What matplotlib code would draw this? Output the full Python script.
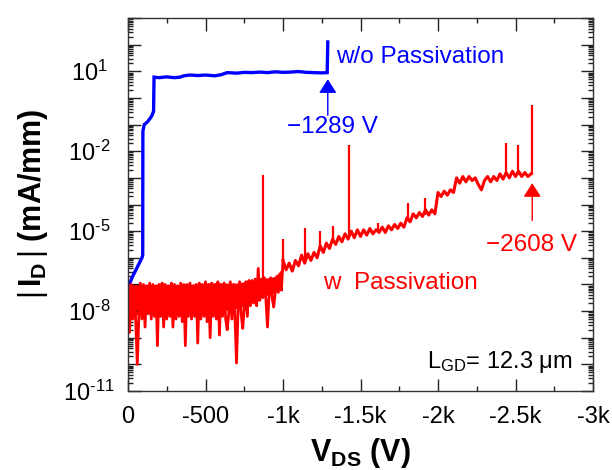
import numpy as np
import matplotlib
matplotlib.use("Agg")
import matplotlib.pyplot as plt
from matplotlib.ticker import FixedLocator, FixedFormatter, LogLocator, NullFormatter

plt.rcParams['font.family'] = ['Liberation Sans', 'DejaVu Sans']
plt.rcParams['mathtext.fontset'] = 'custom'
plt.rcParams['mathtext.rm'] = 'Liberation Sans'
plt.rcParams['mathtext.it'] = 'Liberation Sans:italic'
plt.rcParams['mathtext.bf'] = 'Liberation Sans:bold'
plt.rcParams['path.simplify'] = False  # que no se coma el ruido

# --- datos (log10 de I_D en mA/mm) ---
# sin pasivacion (azul)
blue_v = [0, -30, -60, -90, -95, -96, -105, -125, -145, -155, -165, -168,
          -200, -250, -300, -335, -360, -400, -450, -500, -560, -600, -640,
          -700, -750, -800, -850, -900, -950, -1000, -1050, -1100, -1150,
          -1200, -1250, -1285, -1289]
blue_log = [-7.1, -6.7, -6.35, -6.0, -5.9, -1.25, -1.0, -0.9, -0.75, -0.65,
            -0.5, 0.78, 0.76, 0.79, 0.76, 0.78, 0.83, 0.86, 0.84, 0.86, 0.83,
            0.87, 0.95, 0.93, 0.96, 0.95, 0.97, 0.95, 0.98, 0.96, 0.97, 0.99,
            0.96, 0.95, 0.94, 0.95, 2.1]

# con pasivacion (rojo) - zona de fuga plana, barrido cada 10 V
red_base_v = np.arange(0, -1000, -10)
red_base_log = [
    -7.05, -8.8, -7.0, -8.3, -7.1, -8.4, -10.0, -8.2, -6.95, -8.3,
    -7.0, -8.6, -7.05, -8.1, -6.95, -8.3, -7.0, -8.2, -7.05, -9.3,
    -7.0, -8.2, -6.95, -8.6, -7.0, -8.3, -7.05, -8.2, -6.95, -8.6,
    -7.0, -8.3, -7.05, -8.2, -6.95, -8.4, -7.0, -9.3, -7.0, -8.2,
    -6.95, -8.3, -7.05, -8.2, -7.0, -9.2, -6.95, -8.3, -7.0, -8.2,
    -6.9, -8.4, -7.0, -9.0, -6.95, -8.2, -7.0, -8.3, -6.9, -8.9,
    -7.0, -8.2, -6.95, -8.3, -8.7, -8.1, -6.9, -8.3, -7.0, -8.2,
    -9.95, -8.0, -6.9, -8.1, -8.65, -7.9, -6.9, -8.2, -6.85, -7.8,
    -6.85, -7.7, -6.8, -7.8, -6.4, -7.6, -6.8, -7.5, -6.75, -7.6,
    -8.6, -7.4, -6.75, -7.5, -7.85, -7.3, -6.7, -7.3, -6.65, -7.2]

# nucleo denso de la banda de ruido (envolventes)
band_v = [0, -100, -200, -300, -400, -500, -600, -700, -750, -800, -850,
          -900, -950, -1000]
band_top = [-7.0, -7.0, -7.0, -7.0, -7.0, -6.95, -6.95, -6.95, -6.9, -6.85,
            -6.8, -6.75, -6.7, -6.35]
band_bot = [-8.2, -8.1, -8.1, -8.1, -8.1, -8.1, -8.0, -7.9, -7.8, -7.6,
            -7.5, -7.4, -7.3, -6.5]

# zona de subida, barrido cada 20 V
red_rise_v = np.arange(-1000, -2620, -20)
red_rise_log = [
    -6.1, -6.45, -6.2, -6.5, -6.1, -6.3, -5.9, -6.2, -5.85, -6.1,
    -5.8, -6.0, -5.55, -5.8, -5.45, -5.65, -5.3, -5.5, -5.2, -5.4,
    -5.1, -5.3, -5.0, -5.25, -4.95, -5.2, -4.95, -5.15, -4.9, -5.1,
    -4.95, -5.05, -4.85, -5.05, -4.8, -4.95, -4.75, -4.9, -4.7, -4.85,
    -4.5, -4.65, -4.35, -4.5, -4.3, -4.45, -4.2, -4.4, -4.2, -4.35,
    -3.55, -3.7, -3.5, -3.65, -3.45, -3.55, -3.0, -3.2, -2.95, -3.15,
    -2.95, -3.1, -3.0, -3.25, -3.45, -3.1, -2.95, -3.15, -2.95, -3.1,
    -2.85, -3.05, -2.8, -3.0, -2.75, -2.95, -2.75, -2.95, -2.8, -2.95,
    -2.85]

# picos del rojo
spike_v = [-871, -1000, -1142, -1239, -1325, -1426, -1613, -1806, -1916,
           -2439, -2516, -2608]
spike_low = [-7.0, -6.2, -6.1, -5.7, -5.4, -5.2, -5.0, -4.6, -4.4,
             -2.9, -2.9, -2.9]
spike_top = [-2.9, -5.3, -4.9, -5.0, -4.8, -1.78, -4.7, -3.95, -3.76,
             -1.7, -1.78, -0.28]

xticks = [0, -500, -1000, -1500, -2000, -2500, -3000]
xticklabels = ['0', '-500', '-1k', '-1.5k', '-2k', '-2.5k', '-3k']
ylab_exp = [1, -2, -5, -8, -11]


def etiqueta_y(v, pos):
    e = int(round(np.log10(v)))
    if e not in ylab_exp:
        return ''
    # guion corto como en la figura original
    return r'$\mathrm{10^{%s}}$' % str(e).replace('-', '\u2010')


fig = plt.figure(figsize=(6.12, 4.70), dpi=100)
ax = fig.add_axes([128/612, 1 - 391/470, 465/612, 373/470])

ax.plot(blue_v, 10**np.array(blue_log), color='blue', lw=2.4, solid_joinstyle='miter')
ax.fill_between(band_v, 10**np.array(band_bot), 10**np.array(band_top), color='red', lw=0)
ax.plot(red_base_v, 10**np.array(red_base_log), color='red', lw=2.0)
ax.plot(red_rise_v, 10**np.array(red_rise_log), color='red', lw=2.2)
ax.plot([red_base_v[-1], red_rise_v[0]], [10**red_base_log[-1], 10**red_rise_log[0]],
        color='red', lw=2)
ax.vlines(spike_v, 10**np.array(spike_low), 10**np.array(spike_top), color='red', lw=1.6)

ax.set_yscale('log')
ax.set_xlim(0, -3000)
ax.set_ylim(1e-11, 1e3)

# ejes y marcas
ax.xaxis.set_major_locator(FixedLocator(xticks))
ax.xaxis.set_major_formatter(FixedFormatter(xticklabels))
ax.xaxis.set_minor_locator(FixedLocator(np.arange(-250, -3000, -500)))
ax.yaxis.set_major_locator(FixedLocator([10.0**e for e in range(-11, 4)]))
ax.yaxis.set_major_formatter(plt.FuncFormatter(etiqueta_y))
ax.yaxis.set_minor_locator(LogLocator(base=10, subs=np.arange(2, 10), numticks=40))
ax.yaxis.set_minor_formatter(NullFormatter())

ax.tick_params(which='both', direction='in', top=True, right=True, width=1, color='#222222')
ax.tick_params(which='major', length=9)
ax.tick_params(which='minor', length=3.5)
ax.tick_params(axis='x', labelsize=17, pad=11)
ax.tick_params(axis='y', labelsize=17, pad=28)
for t in ax.get_yticklabels():
    t.set_horizontalalignment('center')
for s in ax.spines.values():
    s.set_linewidth(1.0)
    s.set_color('#333333')

# flechas y textos
ax.annotate('', xy=(-1289, 10**0.70), xytext=(-1289, 10**-0.65),
            arrowprops=dict(arrowstyle='-|>,head_length=0.7,head_width=0.45',
                            color='blue', lw=1, shrinkA=0, shrinkB=0, mutation_scale=12))
ax.annotate('', xy=(-2608, 10**-3.2), xytext=(-2608, 10**-4.6),
            arrowprops=dict(arrowstyle='-|>,head_length=0.7,head_width=0.45',
                            color='red', lw=1, shrinkA=0, shrinkB=0, mutation_scale=12))

ax.text(-1342, 10**1.52, 'w/o Passivation', color='blue', fontsize=17.5, ha='left', va='center')
ax.text(-1316, 10**-1.1, '\u22121289 V', color='blue', fontsize=17.5, ha='center', va='center')
ax.text(-1258, 10**-6.95, 'w  Passivation', color='red', fontsize=17.5, ha='left', va='center')
ax.text(-2897, 10**-5.53, '\u22122608 V', color='red', fontsize=17.5, ha='right', va='center')
ax.text(-2865, 10**-9.9, 'L$_{\\mathrm{GD}}$= 12.3 \u03bcm',
        color='black', fontsize=17, ha='right', va='center')

fig.text(33/612, 1 - 204/470, r'$|\,\mathbf{I_D}\,|$ (mA/mm)', rotation=90,
         fontsize=22, fontweight='bold', ha='center', va='center')
fig.text(360/612, 1 - 461/470, r'$\mathbf{V_{DS}}$ (V)', fontsize=22, fontweight='bold',
         ha='center', va='baseline')

fig.savefig('out.png', dpi=100)
